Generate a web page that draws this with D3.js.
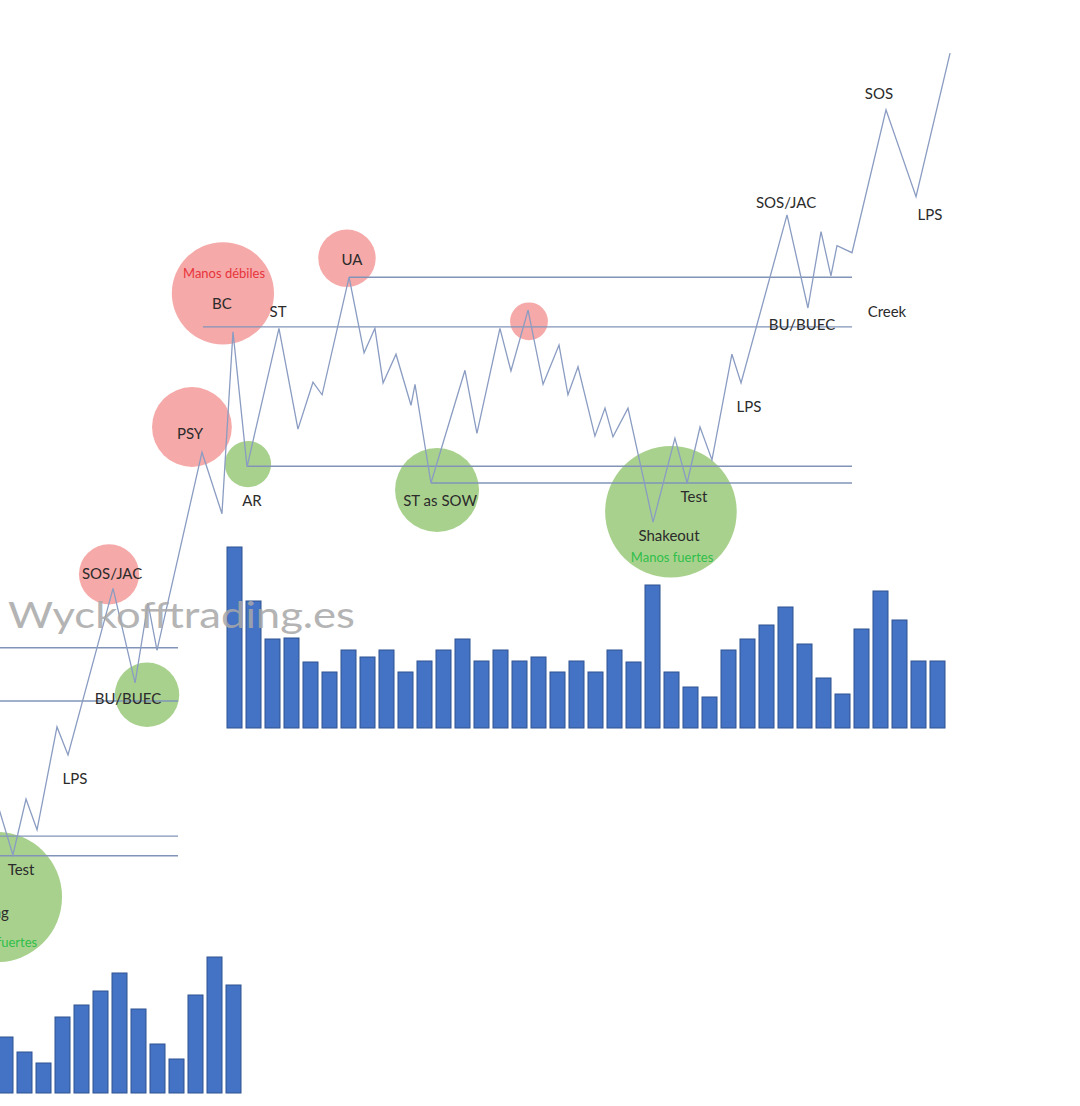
<!DOCTYPE html>
<html>
<head>
<meta charset="utf-8">
<script src="https://cdn.jsdelivr.net/npm/d3@7"></script>
<style>
  body { margin: 0; background: #fff; }
  svg { display: block; }
</style>
</head>
<body>
<div id="wyckoff"></div>
<script>
// ---- Data: main schematic (bar index / price units) ----
const volume = [181, 127, 89, 90, 66, 56, 78, 71, 78, 56, 67, 78, 89, 67, 78, 67, 71, 56, 67, 56,
                78, 66, 143, 56, 41, 31, 78, 89, 103, 121, 84, 50, 34, 99, 137, 108, 67, 67];

const pricePath = [
  [-4.08, 11.1], [-1.71, 39.4], [-0.66, 30.6], [-0.08, 56.6], [0.66, 37.3], [2.34, 57.1],
  [3.34, 42.7], [4.13, 49.4], [4.61, 47.6], [6.03, 64.4], [6.82, 53.6], [7.39, 57.1],
  [7.82, 49.3], [8.5, 53.4], [9.29, 46.1], [9.5, 49.1], [10.34, 35.0], [12.13, 51.1],
  [12.76, 42.1], [13.97, 57.1], [14.55, 51.0], [15.45, 59.7], [16.24, 49.1], [17.08, 54.7],
  [17.55, 47.6], [18.08, 51.6], [18.97, 41.7], [19.5, 45.7], [19.92, 41.6], [20.71, 45.7],
  [22.03, 29.4], [23.18, 41.4], [23.82, 35.0], [24.5, 43.0], [25.13, 38.3], [26.18, 53.4],
  [26.66, 49.3], [29.08, 73.3], [30.18, 60.0], [30.87, 70.9], [31.39, 64.6], [31.71, 68.9],
  [32.5, 67.9], [34.29, 88.3], [35.87, 75.9], [37.66, 96.4]
];

// horizontal levels: [price, from, to]
const levels = [[64.4, 6.03, 32.5], [57.3, -1.66, 32.5], [37.4, 0.66, 32.5], [35.0, 10.34, 32.5]];

// event circles: [t, price, size, kind]
const events = [
  [-0.61, 62.1, 7.3, "weak"], [-2.24, 43.0, 5.7, "weak"], [5.92, 67.1, 4.1, "weak"],
  [15.5, 58.1, 2.7, "weak"], [0.71, 37.7, 3.3, "strong"], [10.66, 34.0, 6.0, "strong"],
  [22.97, 30.9, 9.4, "strong"]
];

// labels: [text, t, price, kind]
const labels = [
  ["Manos débiles", -0.55, 65.0, "weak"], ["BC", -0.66, 60.7, ""], ["ST", 2.29, 59.6, ""],
  ["UA", 6.18, 67.0, ""], ["PSY", -2.34, 42.1, ""], ["AR", 0.92, 32.6, ""],
  ["ST as SOW", 10.82, 32.6, ""], ["Test", 24.18, 33.1, ""], ["Shakeout", 22.87, 27.6, ""],
  ["Manos fuertes", 23.03, 24.4, "strong"], ["LPS", 27.08, 46.0, ""], ["BU/BUEC", 29.87, 57.7, ""],
  ["Creek", 34.34, 59.6, ""], ["SOS/JAC", 29.03, 75.1, ""], ["SOS", 33.92, 90.7, ""],
  ["LPS", 36.6, 73.4, ""]
];

// ---- Data: previous schematic peeking in at the lower left ----
const prevVolumeStart = 23;
const prevVolume = [56, 41, 30, 76, 88, 102, 120, 84, 49, 34, 98, 136, 108];
const prevPath = [
  [22.29, 43.9], [23.39, 34.0], [24.08, 42.0], [24.66, 37.6], [25.71, 52.3], [26.29, 48.3],
  [28.66, 72.1], [29.82, 58.6], [30.50, 70.0], [30.97, 63.3]
];
const prevLevels = [[63.6, 22.0, 32.08], [56.0, 22.0, 32.08], [36.7, 22.0, 32.08], [33.9, 22.0, 32.08]];
const prevEvents = [[28.45, 74.1, 4.3, "weak"], [30.45, 56.9, 4.6, "strong"], [22.55, 28.0, 9.3, "strong"]];
const prevLabels = [
  ["SOS/JAC", 28.61, 74.3, ""], ["BU/BUEC", 29.45, 56.4, ""], ["LPS", 26.66, 45.0, ""],
  ["Test", 23.82, 32.0, ""], ["Spring", 22.08, 25.9, ""], ["Manos fuertes", 22.50, 21.6, "strong"]
];

const watermark = "Wyckofftrading.es";

// ---- SVG ----
const W = 1080, H = 1106;
const svg = d3.select("#wyckoff")
  .append("svg")
    .attr("width", W)
    .attr("height", H)
    .style("font-family", "Lato, 'Open Sans', sans-serif");

// scales
const x = d3.scaleLinear().domain([0, 37]).range([234.5, 937.5]);
const y = d3.scaleLinear().domain([0, 100]).range([728, 28]);
const yVol = d3.scaleLinear().domain([0, 200]).range([728, 528]);
const rSize = d3.scaleLinear().domain([0, 10]).range([0, 70]);
const barW = 15;

const circleFill = { weak: "#f5a9a8", strong: "#a9d18e" };
const noteFill = { weak: "#e8343c", strong: "#2fbf4a" };

const line = d3.line().x(d => x(d[0])).y(d => y(d[1]));

function drawSchematic(g, vols, volStart, path, lvls, evts, lbls) {
  // volume bars
  g.append("g")
    .selectAll("rect")
    .data(vols)
    .join("rect")
      .attr("x", (d, i) => x(i + volStart) - barW / 2)
      .attr("y", d => yVol(d))
      .attr("width", barW)
      .attr("height", d => yVol(0) - yVol(d))
      .attr("fill", "#4472c4")
      .attr("stroke", "#2f528f")
      .attr("stroke-width", 1);

  // circles behind the price line
  g.append("g")
    .selectAll("circle")
    .data(evts)
    .join("circle")
      .attr("cx", d => x(d[0]))
      .attr("cy", d => y(d[1]))
      .attr("r", d => rSize(d[2]))
      .attr("fill", d => circleFill[d[3]]);

  // support / resistance levels
  g.append("g")
    .selectAll("line")
    .data(lvls)
    .join("line")
      .attr("x1", d => x(d[1]))
      .attr("x2", d => x(d[2]))
      .attr("y1", d => y(d[0]))
      .attr("y2", d => y(d[0]))
      .attr("stroke", "#8194b8")
      .attr("stroke-width", 1.4);

  // price path
  g.append("path")
    .datum(path)
    .attr("d", line)
    .attr("fill", "none")
    .attr("stroke", "#8a9cc2")
    .attr("stroke-width", 1.3)
    .attr("stroke-linejoin", "miter");

  // labels
  g.append("g")
    .selectAll("text")
    .data(lbls)
    .join("text")
      .attr("x", d => x(d[1]))
      .attr("y", d => y(d[2]))
      .attr("text-anchor", "middle")
      .attr("dominant-baseline", "central")
      .attr("font-size", d => d[3] ? 13 : 15)
      .attr("fill", d => d[3] ? noteFill[d[3]] : "#2b2b2b")
      .text(d => d[0]);
}

// previous slide, shifted down-left and clipped
svg.append("clipPath")
    .attr("id", "prevClip")
  .append("rect")
    .attr("x", 0).attr("y", 538)
    .attr("width", 244).attr("height", H - 538);

const prev = svg.append("g")
    .attr("clip-path", "url(#prevClip)")
  .append("g")
    .attr("transform", "translate(-666, 365)");
drawSchematic(prev, prevVolume, prevVolumeStart, prevPath, prevLevels, prevEvents, prevLabels);

// main schematic
drawSchematic(svg.append("g"), volume, 0, pricePath, levels, events, labels);

// watermark on top
svg.append("text")
  .attr("x", 8)
  .attr("y", 628)
  .attr("font-size", 37)
  .attr("textLength", 347)
  .attr("lengthAdjust", "spacingAndGlyphs")
  .attr("fill", "#a8a8a8")
  .attr("opacity", 0.85)
  .text(watermark);
</script>
</body>
</html>
